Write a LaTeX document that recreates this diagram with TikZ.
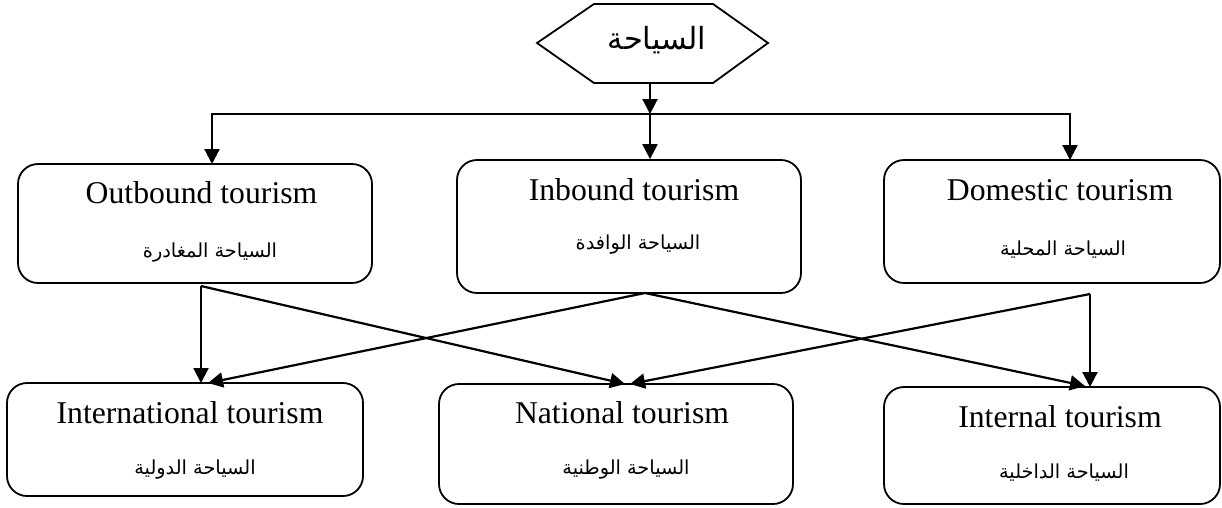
\documentclass[tikz,border=0pt]{standalone}
\usepackage{fontspec}
\setmainfont{Liberation Serif}
\newfontfamily\arabicfont[Script=Arabic]{DejaVu Sans}
\TeXXeTstate=1
\usetikzlibrary{arrows.meta}
\newcommand{\artxt}[1]{{\arabicfont\beginR #1\endR}}
\tikzset{
  box/.style={draw, line width=1.8pt, rounded corners=20pt, inner sep=0pt},
  entext/.style={font=\fontsize{31.7}{36}\selectfont, inner sep=0pt},
  artext/.style={font=\fontsize{19.3}{23}\selectfont, inner sep=0pt},
  link/.style={line width=2.2pt, -{Triangle[length=15pt,width=15pt]}}
}
\begin{document}
\begin{tikzpicture}[x=1pt,y=-1pt]
\useasboundingbox (0,0) rectangle (1222,507);

% top hexagon
\draw[line width=1.8pt] (537,43) -- (594,4) -- (713,4) -- (768,43) -- (713,83) -- (594,83) -- cycle;
\node[font=\fontsize{30.5}{34}\selectfont, inner sep=0pt] (hex) at (657,40) {\artxt{السياحة}};
\coordinate (hexb) at (650,83);
\coordinate (hub) at (650,114);

% first level
\node[box, minimum width=354pt, minimum height=119pt] (out) at (195,223.5) {};
\node[box, minimum width=344pt, minimum height=133pt] (in)  at (629,226.5) {};
\node[box, minimum width=336pt, minimum height=123pt] (dom) at (1052,221.5) {};

\node[entext] (outEn) at (201.5,193) {Outbound tourism};
\node[artext] (outAr) at (210,253) {\artxt{السياحة المغادرة}};
\node[entext] (inEn)  at (634,190) {Inbound tourism};
\node[artext] (inAr)  at (638,245) {\artxt{السياحة الوافدة}};
\node[entext] (domEn) at (1060,190) {Domestic tourism};
\node[artext] (domAr) at (1063,250) {\artxt{السياحة المحلية}};

% second level
\node[box, minimum width=356pt, minimum height=113pt] (intl) at (185,439.5) {};
\node[box, minimum width=354pt, minimum height=120pt] (nat)  at (616,444) {};
\node[box, minimum width=336pt, minimum height=117pt] (intn) at (1052,445.5) {};

\node[entext] (intlEn) at (190,413) {International tourism};
\node[artext] (intlAr) at (195,470) {\artxt{السياحة الدولية}};
\node[entext] (natEn)  at (622,413) {National tourism};
\node[artext] (natAr)  at (626,470) {\artxt{السياحة الوطنية}};
\node[entext] (intnEn) at (1060,417) {Internal tourism};
\node[artext] (intnAr) at (1064,473) {\artxt{السياحة الداخلية}};

% connector ends
\coordinate (outTop) at (212,164);
\coordinate (domTop) at (1070,160);
\coordinate (oB) at (201,286);
\coordinate (iB) at (645,293);
\coordinate (dB) at (1090,294);
\coordinate (intlT1) at (201,383);
\coordinate (intlT2) at (208,383);
\coordinate (natT1) at (625,384);
\coordinate (natT2) at (630,384);
\coordinate (intnT1) at (1085,386);
\coordinate (intnT2) at (1090,387);

% distribution from the top
\draw[link] (hexb) -- (hub);
\draw[link] (hub) -- (in.north -| hub);
\draw[link] (hub) -| (outTop);
\draw[link] (hub) -| (domTop);

% links between the two levels
\draw[link] (oB) -- (intlT1);
\draw[link] (oB) -- (natT1);
\draw[link] (iB) -- (intlT2);
\draw[link] (iB) -- (intnT1);
\draw[link] (dB) -- (natT2);
\draw[link] (dB) -- (intnT2);
\end{tikzpicture}
\end{document}
